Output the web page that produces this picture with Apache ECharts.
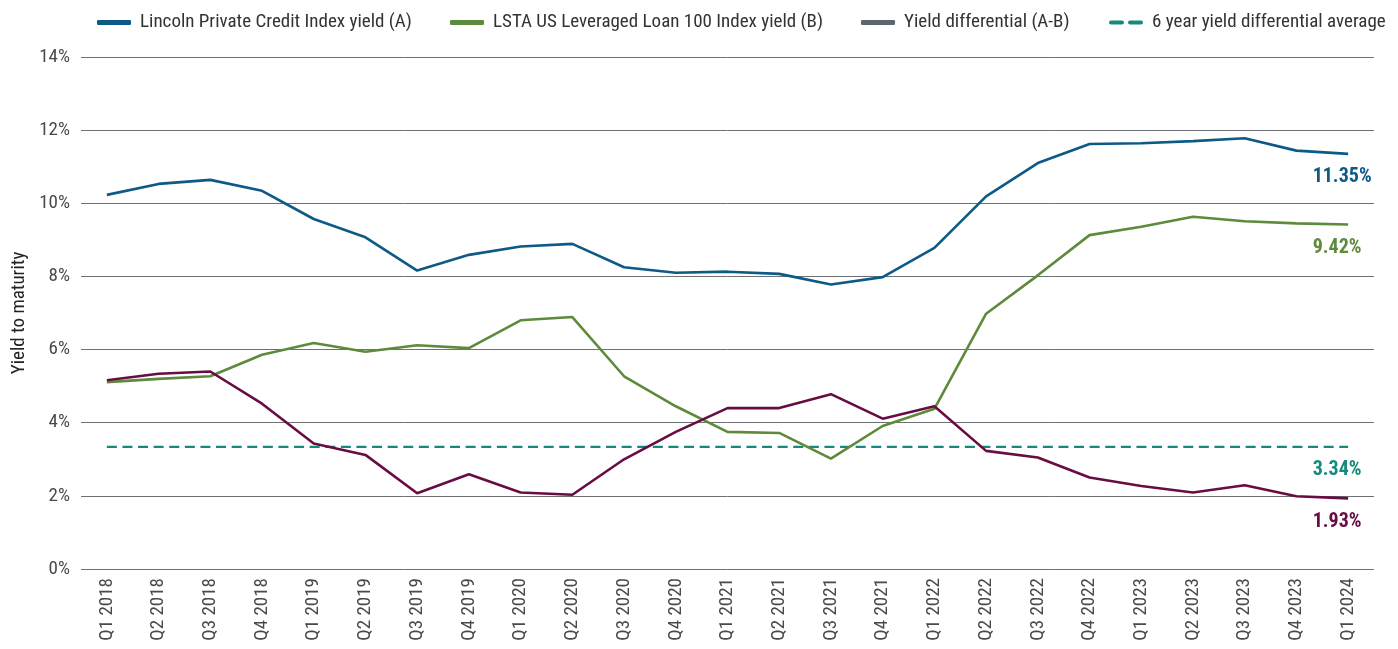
<!DOCTYPE html>
<html>
<head>
<meta charset="utf-8">
<title>Private credit yield vs leveraged loans</title>
<script src="https://cdn.jsdelivr.net/npm/echarts@6/dist/echarts.min.js"></script>
<style>
  html, body { margin: 0; padding: 0; background: #fff; }
  #main { width: 1398px; height: 649px; }
</style>
</head>
<body>
<div id="main"></div>
<script>
// categories (quarters)
var quarters = ['Q1 2018', 'Q2 2018', 'Q3 2018', 'Q4 2018',
  'Q1 2019', 'Q2 2019', 'Q3 2019', 'Q4 2019',
  'Q1 2020', 'Q2 2020', 'Q3 2020', 'Q4 2020',
  'Q1 2021', 'Q2 2021', 'Q3 2021', 'Q4 2021',
  'Q1 2022', 'Q2 2022', 'Q3 2022', 'Q4 2022',
  'Q1 2023', 'Q2 2023', 'Q3 2023', 'Q4 2023',
  'Q1 2024'];

// Lincoln Private Credit Index yield (A)
var lincolnYield = [10.23, 10.53, 10.64, 10.34, 9.57, 9.07, 8.16, 8.59,
  8.82, 8.89, 8.25, 8.10, 8.13, 8.07, 7.78, 7.98,
  8.78, 10.19, 11.10, 11.62, 11.64, 11.70, 11.78, 11.44,
  11.35];

// LSTA US Leveraged Loan 100 Index yield (B)
var lstaYield = [5.11, 5.20, 5.27, 5.86, 6.18, 5.94, 6.12, 6.04,
  6.80, 6.89, 5.27, 4.45, 3.75, 3.72, 3.02, 3.91,
  4.38, 6.98, 8.03, 9.13, 9.36, 9.63, 9.51, 9.45,
  9.42];

// Yield differential (A-B)
var yieldDiff = [5.16, 5.34, 5.40, 4.52, 3.43, 3.12, 2.07, 2.59,
  2.09, 2.03, 3.00, 3.75, 4.40, 4.40, 4.78, 4.11,
  4.45, 3.23, 3.05, 2.50, 2.27, 2.09, 2.29, 1.99,
  1.93];

// 6 year yield differential average
var diffAverage = [3.34, 3.34, 3.34, 3.34, 3.34, 3.34, 3.34, 3.34,
  3.34, 3.34, 3.34, 3.34, 3.34, 3.34, 3.34, 3.34,
  3.34, 3.34, 3.34, 3.34, 3.34, 3.34, 3.34, 3.34,
  3.34];

var yTicks = [0, 2, 4, 6, 8, 10, 12, 14];

var names = ['Lincoln Private Credit Index yield (A)',
  'LSTA US Leveraged Loan 100 Index yield (B)',
  'Yield differential (A-B)',
  '6 year yield differential average'];

var font = '"Liberation Sans Narrow", "Roboto Condensed", "DejaVu Sans Condensed", Roboto, sans-serif';
var cBlue = '#0c5a85';
var cGreen = '#5e8a3b';
var cPurple = '#680c44';
var cTeal = '#14897c';
var cGrey = '#5b6670';

var myChart = echarts.init(document.getElementById('main'));

// value label under the last point of a line
function endMark(val, color) {
  return {
    symbol: 'circle',
    symbolSize: 1,
    silent: true,
    itemStyle: { color: 'transparent' },
    data: [{ coord: [quarters[quarters.length - 1], val], value: val }],
    label: {
      show: true,
      position: [-35, 24],
      align: 'left',
      verticalAlign: 'middle',
      formatter: val.toFixed(2) + '%',
      color: color,
      fontFamily: font,
      fontWeight: 'bold',
      fontSize: 20
    }
  };
}

function legendAt(left, item) {
  return {
    left: left,
    top: 8,
    itemWidth: 34,
    itemHeight: 5,
    itemGap: 0,
    selectedMode: false,
    data: [item],
    textStyle: { fontFamily: font, fontSize: 19, color: '#333', padding: [0, 0, 0, 4] }
  };
}

var option = {
  animation: false,
  backgroundColor: '#fff',
  legend: [
    legendAt(92, { name: names[0], icon: 'roundRect', itemStyle: { color: cBlue } }),
    legendAt(445, { name: names[1], icon: 'roundRect', itemStyle: { color: cGreen } }),
    legendAt(856, { name: names[2], icon: 'roundRect', itemStyle: { color: cGrey } }),
    legendAt(1104, { name: names[3],
      icon: 'path://M2,0H13A2,2 0 0 1 13,4H2A2,2 0 0 1 2,0Z M21,0H32A2,2 0 0 1 32,4H21A2,2 0 0 1 21,0Z',
      itemStyle: { color: cTeal } })
  ],
  grid: {
    left: 81,
    right: 24,
    top: 57,
    bottom: 80,
    containLabel: false,
    outerBoundsMode: 'none'
  },
  xAxis: {
    type: 'category',
    data: quarters,
    boundaryGap: true,
    axisLine: { show: false },
    axisTick: { show: false },
    axisLabel: {
      rotate: 90,
      interval: 0,
      margin: 9,
      fontFamily: font,
      fontSize: 19,
      color: '#4a4a4a'
    }
  },
  yAxis: {
    type: 'value',
    min: yTicks[0],
    max: yTicks[yTicks.length - 1],
    interval: 2,
    name: 'Yield to maturity',
    nameLocation: 'middle',
    nameGap: 52,
    nameTextStyle: { fontFamily: font, fontSize: 19, color: '#222' },
    axisLine: { show: false },
    axisTick: { show: false },
    axisLabel: {
      margin: 11,
      fontFamily: font,
      fontSize: 19,
      color: '#4a4a4a',
      formatter: '{value}%'
    },
    splitLine: { lineStyle: { color: '#6d7075', width: 1 } }
  },
  series: [
    {
      name: names[0],
      type: 'line',
      data: lincolnYield,
      symbol: 'none',
      itemStyle: { color: cBlue },
      lineStyle: { color: cBlue, width: 2.6 },
      z: 4,
      markPoint: endMark(lincolnYield[lincolnYield.length - 1], cBlue)
    },
    {
      name: names[1],
      type: 'line',
      data: lstaYield,
      symbol: 'none',
      itemStyle: { color: cGreen },
      lineStyle: { color: cGreen, width: 2.6 },
      z: 3,
      markPoint: endMark(lstaYield[lstaYield.length - 1], cGreen)
    },
    {
      name: names[2],
      type: 'line',
      data: yieldDiff,
      symbol: 'none',
      itemStyle: { color: cGrey },
      lineStyle: { color: cPurple, width: 2.6 },
      z: 5,
      markPoint: endMark(yieldDiff[yieldDiff.length - 1], cPurple)
    },
    {
      name: names[3],
      type: 'line',
      data: diffAverage,
      symbol: 'none',
      itemStyle: { color: cTeal },
      lineStyle: { color: cTeal, width: 2.2, type: [10, 5.6] },
      z: 2,
      markPoint: endMark(diffAverage[diffAverage.length - 1], cTeal)
    }
  ]
};

myChart.setOption(option);

window.onresize = function () {
  myChart.resize();
};
</script>
</body>
</html>
